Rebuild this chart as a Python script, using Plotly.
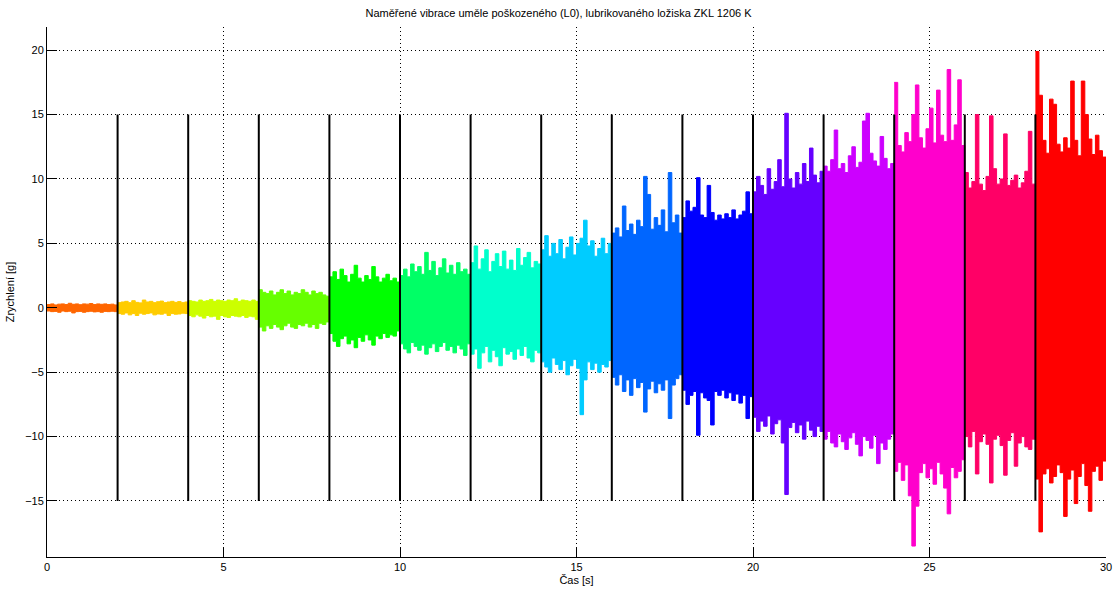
import plotly.graph_objects as go

# hranice useku mereni [s] a krok odectu obalky [s]
seg_bounds = [0, 2, 4, 6, 8, 10, 12, 14, 16, 18, 20, 22, 24, 26, 28, 30]
step = 0.1

# barvy useku (hsv)
seg_colors = ['#FF6600', '#FFCC00', '#CCFF00', '#66FF00', '#00FF00',
              '#00FF66', '#00FFCC', '#00CCFF', '#0066FF', '#0000FF',
              '#6600FF', '#CC00FF', '#FF00CC', '#FF0066', '#FF0000']

# horni / dolni obalka signalu po 0.1 s [g]
seg1_hi = [0.25, 0.3, 0.22, 0.28, 0.3, 0.25, 0.35, 0.27, 0.3, 0.24, 0.3, 0.28, 0.33, 0.25, 0.3, 0.27, 0.3, 0.25, 0.28, 0.22]
seg1_lo = [-0.25, -0.3, -0.28, -0.35, -0.25, -0.3, -0.27, -0.4, -0.3, -0.28, -0.35, -0.3, -0.27, -0.32, -0.3, -0.35, -0.28, -0.3, -0.27, -0.3]
seg2_hi = [0.4, 0.45, 0.5, 0.4, 0.55, 0.42, 0.38, 0.6, 0.45, 0.5, 0.4, 0.47, 0.52, 0.4, 0.45, 0.5, 0.42, 0.48, 0.4, 0.45]
seg2_lo = [-0.45, -0.5, -0.4, -0.55, -0.45, -0.6, -0.42, -0.5, -0.45, -0.4, -0.55, -0.48, -0.5, -0.42, -0.6, -0.45, -0.5, -0.48, -0.42, -0.45]
seg3_hi = [0.55, 0.5, 0.45, 0.6, 0.5, 0.55, 0.65, 0.5, 0.6, 0.55, 0.5, 0.6, 0.55, 0.7, 0.5, 0.6, 0.55, 0.5, 0.6, 0.5]
seg3_lo = [-0.6, -0.7, -0.55, -0.65, -0.8, -0.6, -0.7, -0.65, -0.9, -0.6, -0.7, -0.75, -0.6, -0.65, -0.7, -0.6, -0.75, -0.65, -0.7, -0.9]
seg4_hi = [1.4, 1.2, 1.1, 1.3, 1.0, 1.2, 1.4, 1.1, 1.3, 1.0, 1.2, 1.1, 1.4, 1.2, 1.0, 1.3, 1.1, 1.2, 1.0, 0.9]
seg4_lo = [-1.5, -1.8, -1.4, -1.6, -1.3, -1.5, -1.7, -1.4, -1.2, -1.5, -1.6, -1.3, -1.4, -1.2, -1.5, -1.3, -1.6, -1.2, -1.3, -1.1]
seg5_hi = [2.4, 2.8, 2.2, 3.0, 2.5, 2.0, 2.6, 3.3, 2.3, 2.0, 2.5, 2.2, 3.2, 2.4, 2.0, 2.3, 2.6, 2.1, 2.3, 2.0]
seg5_lo = [-2.0, -2.6, -3.0, -2.4, -2.2, -2.8, -2.5, -3.1, -2.3, -2.6, -2.1, -2.5, -2.9, -2.2, -2.4, -2.0, -2.3, -2.1, -2.2, -1.8]
seg6_hi = [2.5, 3.0, 2.4, 3.4, 2.8, 3.2, 2.6, 4.3, 2.9, 3.6, 2.5, 3.1, 3.8, 2.7, 3.3, 2.6, 3.5, 2.8, 3.0, 2.6]
seg6_lo = [-2.8, -3.2, -3.5, -2.7, -3.0, -3.3, -2.9, -3.6, -3.1, -2.8, -3.4, -3.0, -2.7, -3.3, -3.0, -3.5, -2.9, -3.2, -3.7, -2.8]
seg7_hi = [3.5, 4.8, 3.0, 3.8, 4.5, 2.8, 3.6, 4.2, 3.2, 4.4, 3.0, 3.7, 2.9, 4.6, 3.3, 3.9, 4.3, 3.1, 3.6, 3.4]
seg7_lo = [-3.6, -3.2, -4.7, -3.5, -3.0, -4.2, -3.3, -3.8, -4.5, -3.1, -3.6, -3.4, -4.0, -3.2, -3.7, -3.0, -3.9, -4.2, -3.3, -3.5]
seg8_hi = [4.5, 5.6, 4.0, 5.0, 4.2, 5.3, 3.8, 4.7, 5.5, 4.1, 5.0, 5.4, 6.8, 4.8, 5.2, 4.0, 4.6, 5.4, 4.2, 5.0]
seg8_lo = [-4.2, -4.6, -5.0, -3.9, -4.4, -4.8, -4.1, -5.2, -4.5, -4.0, -4.7, -8.3, -5.6, -4.2, -4.8, -4.3, -5.0, -4.4, -4.6, -4.1]
seg9_hi = [5.8, 6.2, 5.5, 7.9, 6.0, 6.5, 5.7, 6.8, 6.3, 10.2, 8.8, 6.1, 7.0, 6.4, 7.6, 5.9, 10.5, 6.6, 7.2, 5.8]
seg9_lo = [-5.4, -6.0, -5.2, -6.5, -5.6, -6.8, -5.5, -6.2, -5.8, -8.1, -6.3, -5.7, -6.6, -5.9, -6.4, -5.6, -8.6, -6.0, -5.5, -5.2]
seg10_hi = [7.0, 8.3, 7.5, 7.8, 10.1, 7.2, 7.0, 9.5, 7.4, 6.8, 7.2, 6.9, 7.3, 7.0, 7.6, 6.9, 7.2, 7.5, 9.0, 7.3]
seg10_lo = [-6.4, -7.5, -6.8, -6.5, -9.9, -6.6, -7.0, -7.2, -9.1, -6.5, -6.8, -6.4, -7.0, -6.6, -7.2, -6.7, -7.4, -6.8, -8.6, -6.9]
seg11_hi = [9.0, 10.2, 9.5, 8.8, 10.8, 9.2, 9.8, 11.5, 9.4, 15.1, 10.0, 9.3, 10.5, 9.6, 11.2, 9.8, 12.4, 10.3, 9.7, 10.6]
seg11_lo = [-8.5, -9.6, -8.8, -9.2, -8.4, -9.8, -9.0, -8.7, -10.5, -14.5, -9.3, -8.9, -9.7, -9.1, -10.2, -8.8, -9.5, -10.0, -9.2, -9.6]
seg12_hi = [11.0, 10.6, 11.5, 13.8, 10.8, 11.2, 10.5, 11.8, 12.5, 10.9, 11.3, 14.5, 15.1, 12.0, 11.4, 11.0, 13.3, 11.6, 10.8, 11.2]
seg12_lo = [-10.2, -9.6, -10.5, -10.8, -9.8, -10.4, -11.0, -10.1, -9.7, -10.6, -11.5, -10.0, -10.3, -10.9, -9.9, -12.1, -10.5, -11.0, -10.2, -9.8]
seg13_hi = [17.5, 12.6, 12.1, 13.6, 12.9, 15.0, 17.3, 13.2, 12.4, 13.9, 15.5, 12.8, 16.9, 13.4, 12.9, 18.5, 13.0, 14.2, 17.7, 12.6]
seg13_lo = [-12.7, -12.0, -13.4, -12.2, -14.6, -18.5, -15.4, -12.8, -12.1, -13.2, -12.5, -13.7, -12.0, -12.9, -14.0, -16.0, -12.4, -13.2, -12.7, -11.8]
seg14_hi = [10.5, 9.3, 9.8, 15.0, 9.6, 9.1, 10.2, 14.9, 10.8, 9.6, 10.0, 13.5, 9.5, 9.9, 10.3, 9.3, 9.7, 10.6, 13.7, 9.6]
seg14_lo = [-10.0, -10.8, -9.6, -12.9, -10.4, -9.8, -10.6, -13.6, -10.2, -9.9, -10.7, -13.0, -10.3, -9.7, -12.3, -10.5, -10.0, -10.8, -11.0, -10.2]
seg15_hi = [19.9, 16.5, 13.0, 12.0, 16.2, 15.8, 12.7, 12.1, 13.2, 12.4, 17.6, 13.0, 11.8, 17.6, 15.0, 13.1, 11.9, 13.4, 12.2, 11.7]
seg15_lo = [-13.3, -17.4, -12.9, -12.5, -13.6, -13.1, -12.2, -12.8, -16.2, -13.3, -12.6, -15.2, -13.1, -12.1, -13.8, -15.8, -12.7, -12.3, -13.4, -11.9]

# svisle delici cary mezi useky
divider_x = [2, 4, 6, 8, 10, 12, 14, 16, 18, 20, 22, 24, 26, 28]
divider_y = [-15, 15]

seg_hi = [seg1_hi, seg2_hi, seg3_hi, seg4_hi, seg5_hi, seg6_hi, seg7_hi, seg8_hi,
          seg9_hi, seg10_hi, seg11_hi, seg12_hi, seg13_hi, seg14_hi, seg15_hi]
seg_lo = [seg1_lo, seg2_lo, seg3_lo, seg4_lo, seg5_lo, seg6_lo, seg7_lo, seg8_lo,
          seg9_lo, seg10_lo, seg11_lo, seg12_lo, seg13_lo, seg14_lo, seg15_lo]

font = 'Liberation Sans, Arial, sans-serif'

fig = go.Figure()

for k in range(len(seg_colors)):
    t0 = seg_bounds[k]
    hi = seg_hi[k]
    lo = seg_lo[k]
    n = len(hi)
    t = [t0 + step * i for i in range(n + 1)]
    # obalka jako uzavreny polygon, schodovite (hv)
    xs = t + t[::-1]
    ys = hi + [hi[-1]] + lo[::-1] + [lo[0]]
    fig.add_trace(go.Scatter(
        x=xs, y=ys,
        mode='lines',
        line_shape='hv',
        fill='toself',
        fillcolor=seg_colors[k],
        line=dict(color=seg_colors[k], width=1),
        hoverinfo='skip',
        showlegend=False
    ))

# cerne delici cary
lx, ly = [], []
for x in divider_x:
    lx += [x, x, None]
    ly += [divider_y[0], divider_y[1], None]
fig.add_trace(go.Scatter(
    x=lx, y=ly, mode='lines',
    line=dict(color='black', width=2),
    hoverinfo='skip', showlegend=False
))

fig.update_layout(
    width=1117,
    height=597,
    paper_bgcolor='white',
    plot_bgcolor='white',
    margin=dict(l=47, r=11, t=27, b=40),
    font=dict(family=font, size=11, color='black'),
    title=dict(
        text='Naměřené vibrace uměle poškozeného (L0), lubrikovaného ložiska ZKL 1206 K',
        x=0.5, xanchor='center', y=0.978, yanchor='middle',
        font=dict(family=font, size=11, color='black')
    ),
    xaxis=dict(
        range=[0, 30],
        tickvals=[0, 5, 10, 15, 20, 25, 30],
        ticks='inside', ticklen=10, tickcolor='black', tickwidth=1,
        showline=True, linecolor='black', linewidth=1,
        showgrid=True, gridcolor='black', gridwidth=1, griddash='1px,3px',
        zeroline=False,
        title=dict(text='Čas [s]', standoff=4, font=dict(size=11)),
        automargin=False
    ),
    yaxis=dict(
        range=[-19.35, 21.8],
        tickvals=[-15, -10, -5, 0, 5, 10, 15, 20],
        ticks='inside', ticklen=10, tickcolor='black', tickwidth=1,
        showline=True, linecolor='black', linewidth=1,
        showgrid=True, gridcolor='black', gridwidth=1, griddash='1px,3px',
        zeroline=False,
        title=dict(text='Zrychlení [g]', standoff=8, font=dict(size=11)),
        automargin=False
    )
)

fig.write_html('out.html', config={'displayModeBar': False},
               post_script="document.body.style.margin='0';")
